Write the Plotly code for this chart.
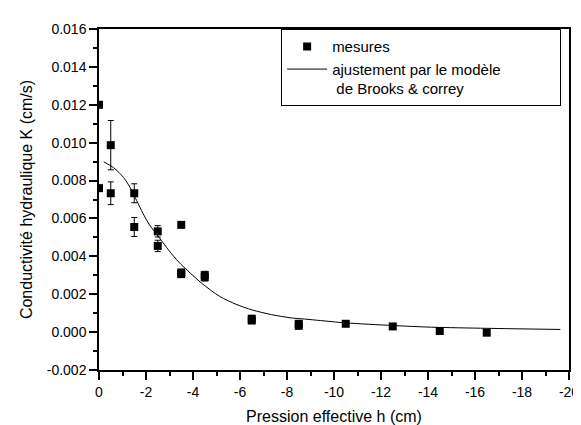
import plotly.graph_objects as go

# Measured points (pressure h in cm, conductivity K in cm/s, error bar half-height)
mes_h = [0, 0, -0.5, -0.5, -1.5, -1.5, -2.5, -2.5, -3.5, -3.5, -3.5,
         -4.5, -4.5, -6.5, -6.5, -8.5, -8.5, -10.5, -12.5, -14.5, -16.5]
mes_k = [0.0120, 0.0076, 0.00987, 0.00733, 0.00733, 0.00555, 0.00532, 0.00455,
         0.00566, 0.00315, 0.00306, 0.00301, 0.00290, 0.00071, 0.00061,
         0.00044, 0.00033, 0.00044, 0.00030, 0.00006, -0.00003]
mes_err = [0, 0, 0.0013, 0.0006, 0.0005, 0.0005, 0.0003, 0.0003,
           0, 0.0001, 0.0001, 0.0002, 0.0002, 0, 0, 0, 0, 0, 0, 0, 0]

# Brooks & Corey fit curve
fit_h = [-0.2, -0.62, -1.04, -1.32, -1.6, -1.87, -2.15, -2.57, -2.98, -3.4,
         -3.75, -4.37, -5.13, -5.83, -6.52, -7.35, -8.18, -8.74, -9.43,
         -10.47, -12.48, -14.15, -16.5, -19.63]
fit_k = [0.00899, 0.00868, 0.00817, 0.00764, 0.00695, 0.00627, 0.00566,
         0.00498, 0.00430, 0.00369, 0.00327, 0.00258, 0.00189, 0.00147,
         0.00117, 0.00092, 0.00075, 0.00069, 0.00061, 0.00049, 0.00035,
         0.00026, 0.00020, 0.00014]

x_tickvals = [0, -2, -4, -6, -8, -10, -12, -14, -16, -18, -20]
x_ticktext = ["0", "-2", "-4", "-6", "-8", "-10", "-12", "-14", "-16", "-18", "-20"]
y_tickvals = [-0.002, 0.0, 0.002, 0.004, 0.006, 0.008, 0.010, 0.012, 0.014, 0.016]
y_ticktext = ["-0.002", "0.000", "0.002", "0.004", "0.006", "0.008",
              "0.010", "0.012", "0.014", "0.016"]

FONT = "Liberation Sans, Arial, sans-serif"
PAD = "\u00a0" * 13  # widens the legend box like the original

fig = go.Figure()
fig.add_trace(go.Scatter(
    x=mes_h, y=mes_k, mode="markers", name="mesures",
    marker=dict(symbol="square", size=8, color="black"),
    error_y=dict(type="data", array=mes_err, visible=True,
                 color="black", thickness=1, width=3),
))
fig.add_trace(go.Scatter(
    x=fit_h, y=fit_k, mode="lines",
    name="ajustement par le modèle" + PAD + "<br> de Brooks & correy",
    line=dict(color="black", width=1, shape="spline", smoothing=0.8),
))

axis_common = dict(
    showgrid=False, zeroline=False, showline=True, linecolor="black",
    linewidth=1.5, mirror=True, ticks="outside", ticklen=8, tickwidth=1.5,
    tickcolor="black", tickfont=dict(family=FONT, size=14, color="black"),
    tickmode="array",
)

fig.update_xaxes(
    **axis_common, range=[0, -20], tickvals=x_tickvals, ticktext=x_ticktext,
    minor=dict(tickmode="linear", tick0=0, dtick=1, ticks="outside",
               ticklen=4, tickwidth=1.5, tickcolor="black"),
    title=dict(text="Pression effective h (cm)",
               font=dict(family=FONT, size=16, color="black"), standoff=12),
)
fig.update_yaxes(
    **axis_common, range=[-0.002, 0.016], tickvals=y_tickvals, ticktext=y_ticktext,
    minor=dict(tickmode="linear", tick0=0, dtick=0.001, ticks="outside",
               ticklen=4, tickwidth=1.5, tickcolor="black"),
    title=dict(text="Conductivité hydraulique K (cm/s)",
               font=dict(family=FONT, size=16, color="black"), standoff=10),
)

fig.update_layout(
    width=581, height=425,
    margin=dict(l=91, r=10, t=21, b=54),
    paper_bgcolor="white", plot_bgcolor="white",
    font=dict(family=FONT, color="black"),
    legend=dict(
        x=0.3875, y=0.999, xanchor="left", yanchor="top",
        bgcolor="white", bordercolor="black", borderwidth=1,
        font=dict(family=FONT, size=15, color="black"),
        valign="top", itemwidth=40, tracegroupgap=0,
    ),
)

fig.write_html("out.html")
